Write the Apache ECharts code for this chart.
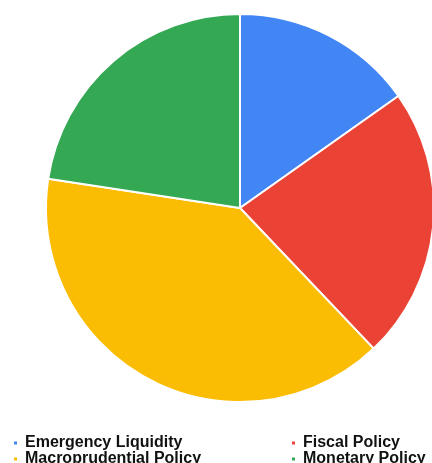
<!DOCTYPE html>
<html>
<head>
<meta charset="utf-8">
<script src="https://cdn.jsdelivr.net/npm/echarts@6/dist/echarts.min.js"></script>
<style>
html, body { margin: 0; padding: 0; background: #fff; }
#chart { width: 432px; height: 463px; }
</style>
</head>
<body>
<div id="chart"></div>
<script>
// 数据
const categories = ['Emergency Liquidity', 'Fiscal Policy', 'Macroprudential Policy', 'Monetary Policy'];
const shares = [15.2, 22.7, 39.5, 22.6];
const colors = ['#4285F4', '#EA4335', '#FBBC04', '#34A853'];

var myChart = echarts.init(document.getElementById('chart'));

const legendBase = {
    orient: 'vertical',
    top: 435,
    height: 40,
    padding: 0,
    itemWidth: 5,
    itemHeight: 5,
    itemGap: 0,
    icon: 'rect',
    selectedMode: false,
    textStyle: {
        fontFamily: 'Liberation Sans, Arial, sans-serif',
        fontWeight: 'bold',
        fontSize: 16,
        lineHeight: 15,
        color: '#111',
        padding: [0, 0, 0, 2]
    }
};

const option = {
    animation: false,
    color: colors,
    legend: [
        Object.assign({}, legendBase, { left: 12, data: [categories[0], categories[2]] }),
        Object.assign({}, legendBase, { left: 290, data: [categories[1], categories[3]] })
    ],
    series: [{
        type: 'pie',
        center: [240, 208],
        radius: 194,
        startAngle: 90,
        label: { show: false },
        labelLine: { show: false },
        itemStyle: { borderColor: '#fff', borderWidth: 2 },
        data: categories.map((name, i) => ({ name: name, value: shares[i] }))
    }]
};
myChart.setOption(option);
</script>
</body>
</html>
